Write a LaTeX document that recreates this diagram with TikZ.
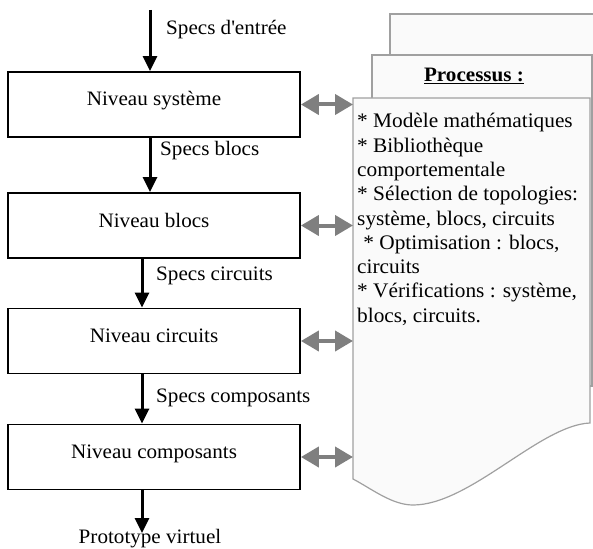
\documentclass[tikz,border=0pt]{standalone}
\usepackage{fontspec}
\setmainfont{Liberation Serif}[FakeStretch=1.03]
\usetikzlibrary{arrows.meta}
\definecolor{pagegray}{HTML}{A0A0A0}
\definecolor{pagefill}{HTML}{FAFAFA}
\definecolor{linkgray}{HTML}{7F7F7F}
\begin{document}
\begin{tikzpicture}[x=1pt,y=-1pt,
  lvl/.style={draw=black, line width=1.8pt, minimum width=292pt, minimum height=65pt,
    inner sep=0pt, text height=12pt, text depth=9pt, font=\fontsize{20.5}{24}\selectfont},
  lab/.style={anchor=base west, inner sep=0pt, font=\fontsize{20.5}{24}\selectfont},
  txt/.style={anchor=base west, inner sep=0pt, font=\fontsize{20.7}{24}\selectfont},
  flow/.style={line width=3pt, -{Triangle[length=15pt,width=14pt]}},
  link/.style={draw=linkgray, line width=4pt,
    {Triangle[length=18pt,width=20pt]}-{Triangle[length=18pt,width=20pt]}},
  pagesheet/.style={draw=pagegray, line width=1.2pt, fill=pagefill}]
\useasboundingbox (0,0) rectangle (593,548);
\clip (0,0) rectangle (593,548);

% stacked pages
\path[pagesheet] (390,350) -- (390,14) -- (600,14) -- (600,350);
\path[pagesheet] (372,386) -- (372,55) -- (592,55) -- (592,386) -- cycle;
\node[anchor=base, inner sep=0pt, font=\fontsize{20.5}{24}\selectfont\bfseries] (proc) at (474,82) {\underline{Processus :}};
\path[pagesheet] (353,98) -- (590,98) -- (590,423)
  .. controls (540,425) and (470,505) .. (413,505)
  .. controls (392,505) and (372,489) .. (353,479) -- cycle;

\foreach \t [count=\i from 0] in {{* Modèle mathématiques},{* Bibliothèque},{comportementale},
  {* Sélection de topologies:},{système, blocs, circuits},{\hspace{0.3em}* Optimisation : blocs,},
  {circuits},{* Vérifications : système,},{blocs, circuits.}}
  \node[txt] (L\i) at (357,128+24.25*\i) {\t};

% level boxes
\node[lvl] (b1) at (154,104.5) {Niveau système};
\node[lvl] (b2) at (154,225.5) {Niveau blocs};
\node[lvl] (b3) at (154,341) {Niveau circuits};
\node[lvl] (b4) at (154,457) {Niveau composants};

% flow arrows
\coordinate (in0) at (150,10);
\coordinate (ax1) at (142,0);
\coordinate (out0) at (142,533);
\draw[flow] (in0) -- (in0 |- b1.north);
\draw[flow] (b1.south -| in0) -- (b2.north -| in0);
\draw[flow] (b2.south -| ax1) -- (b3.north -| ax1);
\draw[flow] (b3.south -| ax1) -- (b4.north -| ax1);
\draw[flow] (b4.south -| ax1) -- (out0);

\node[lab] (s0) at (166,35) {Specs d\textquotesingle entrée};
\node[lab] (s1) at (160,155) {Specs blocs};
\node[lab] (s2) at (156,280) {Specs circuits};
\node[lab] (s3) at (156,402) {Specs composants};
\node[anchor=base, inner sep=0pt, font=\fontsize{20.5}{24}\selectfont] (proto) at (150,543) {Prototype virtuel};

% links to the process document
\coordinate (p1) at (353,104.5);
\coordinate (p2) at (353,225.5);
\coordinate (p3) at (353,341);
\coordinate (p4) at (353,457);
\draw[link] (b1.east) -- (p1);
\draw[link] (b2.east) -- (p2);
\draw[link] (b3.east) -- (p3);
\draw[link] (b4.east) -- (p4);
\end{tikzpicture}
\end{document}
